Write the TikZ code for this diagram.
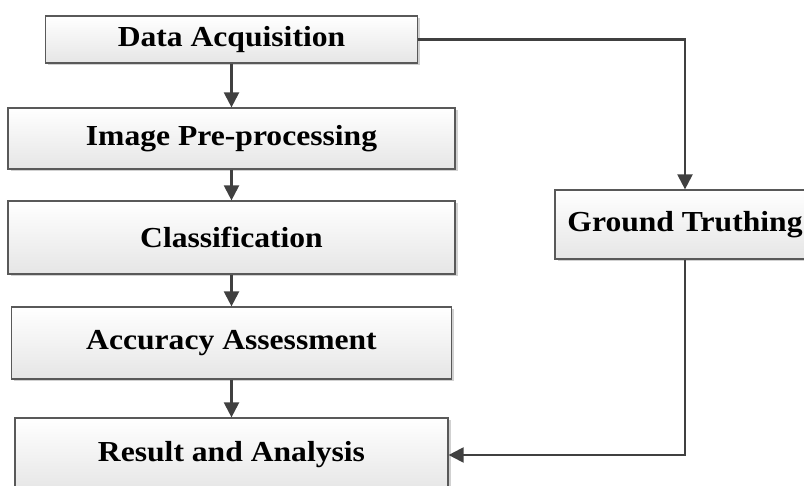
\documentclass[tikz,border=0pt]{standalone}
\usepackage{fontspec}
\setmainfont[FakeStretch=1.09]{Liberation Serif}
\usetikzlibrary{arrows.meta,shadows}

\begin{document}
\begin{tikzpicture}[x=1pt,y=-1pt,
  stagebox/.style={draw=black!65,line width=1.2pt,top color=white,bottom color=black!10,
    drop shadow={shadow xshift=2.5pt,shadow yshift=-2.5pt,fill=black,opacity=0.18},
    font=\fontsize{29}{34}\selectfont\bfseries,inner sep=0pt},
  flow/.style={draw=black!75,line width=2.2pt,-{Triangle[length=15pt,width=15pt]}}]
\useasboundingbox (0,0) rectangle (804,486);

\node[stagebox,minimum width=372pt,minimum height=47pt] (data) at (231.5,39.5) {Data Acquisition};
\node[stagebox,minimum width=447pt,minimum height=61pt] (prep) at (231.5,138.5) {Image Pre-processing};
\node[stagebox,minimum width=447pt,minimum height=73pt] (class) at (231.5,237.5) {Classification};
\node[stagebox,minimum width=440pt,minimum height=72pt] (accu) at (231.5,343) {Accuracy Assessment};
\node[stagebox,minimum width=433pt,minimum height=74pt] (result) at (231.5,455) {Result and Analysis};
\node[stagebox,minimum width=260pt,minimum height=69pt] (ground) at (685,224.5) {Ground Truthing};

\draw[flow] (data) -- (prep);
\draw[flow] (prep) -- (class);
\draw[flow] (class) -- (accu);
\draw[flow] (accu) -- (result);
\draw[flow] (data.east) -| (ground.north);
\draw[flow] (ground.south) |- (result.east);
\end{tikzpicture}
\end{document}
